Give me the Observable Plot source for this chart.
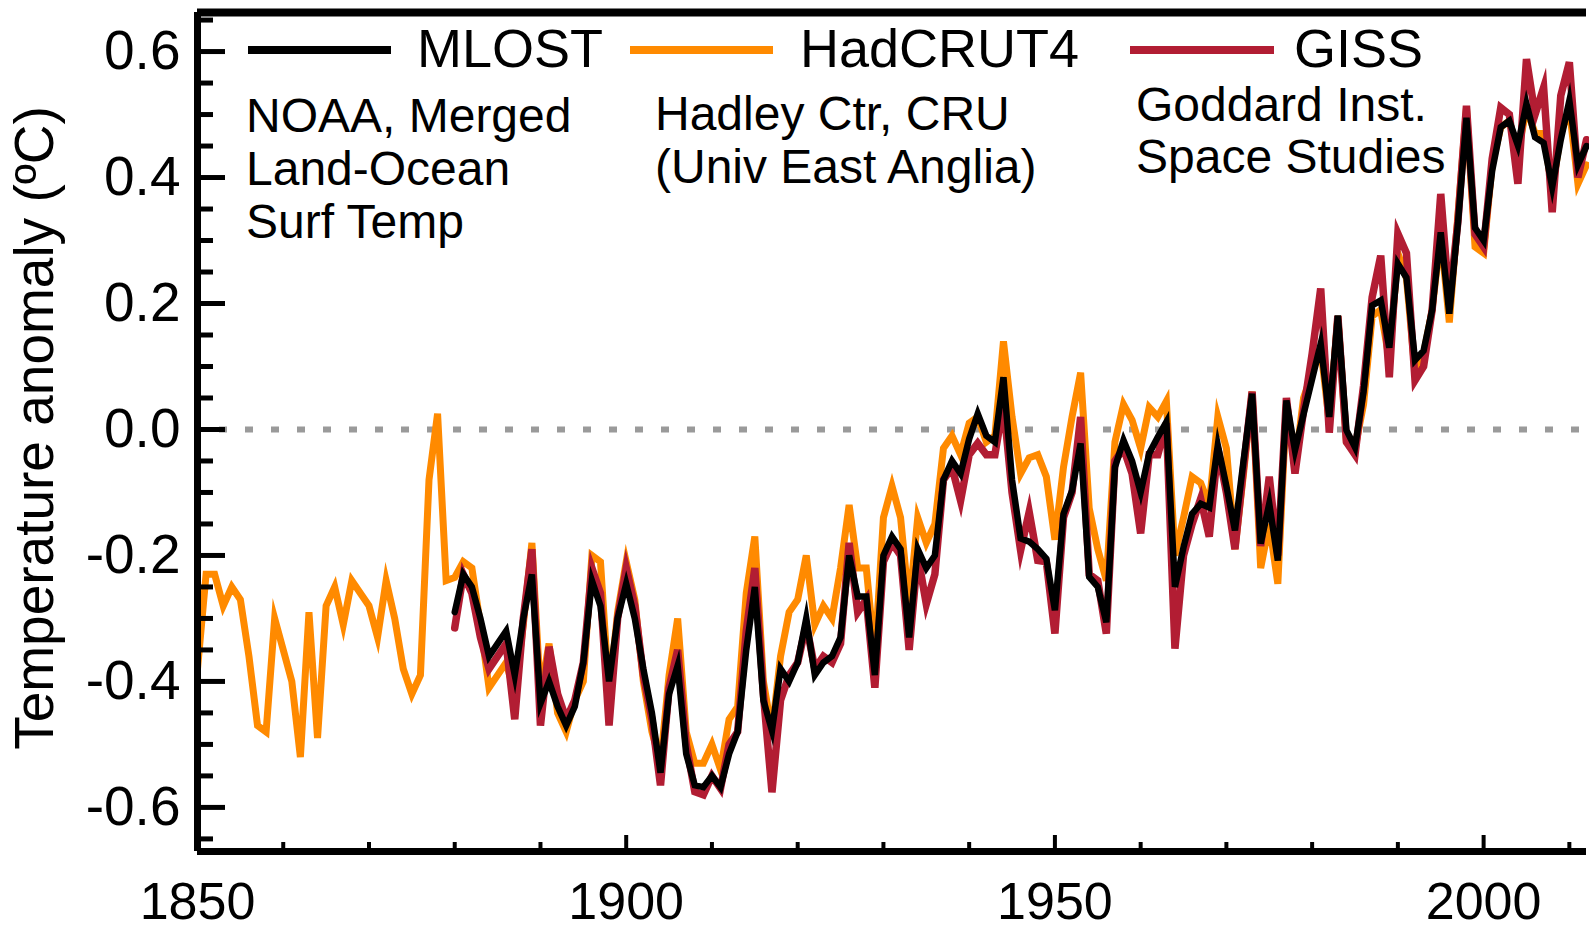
<!DOCTYPE html>
<html>
<head>
<meta charset="utf-8">
<script src="https://cdn.jsdelivr.net/npm/d3@7"></script>
<script src="https://cdn.jsdelivr.net/npm/@observablehq/plot@0.6"></script>
<style>
  html, body { margin: 0; padding: 0; background: #ffffff; overflow: hidden; }
  #chart { width: 1589px; height: 931px; }
</style>
</head>
<body>
<div id="chart"></div>
<script>
// ---------------- DATA ----------------
const hadcrutStart = 1850;
const hadcrut4 = [
  -0.38,-0.23,-0.23,-0.28,-0.25,-0.27,-0.36,-0.47,-0.48,-0.30,
  -0.35,-0.40,-0.52,-0.29,-0.49,-0.28,-0.25,-0.31,-0.24,-0.26,
  -0.28,-0.33,-0.24,-0.30,-0.38,-0.42,-0.39,-0.08,0.025,-0.24,
  -0.235,-0.21,-0.22,-0.31,-0.41,-0.39,-0.37,-0.42,-0.31,-0.18,
  -0.42,-0.34,-0.45,-0.48,-0.43,-0.40,-0.20,-0.21,-0.42,-0.29,
  -0.21,-0.27,-0.40,-0.48,-0.53,-0.39,-0.30,-0.48,-0.53,-0.53,
  -0.50,-0.54,-0.46,-0.44,-0.26,-0.17,-0.40,-0.48,-0.36,-0.29,
  -0.27,-0.20,-0.31,-0.28,-0.30,-0.22,-0.12,-0.22,-0.22,-0.36,
  -0.14,-0.09,-0.14,-0.28,-0.14,-0.18,-0.15,-0.03,-0.01,-0.04,
  0.01,0.02,-0.02,-0.01,0.14,0.02,-0.07,-0.045,-0.04,-0.075,
  -0.175,-0.06,0.02,0.09,-0.125,-0.19,-0.24,-0.02,0.04,0.015,
  -0.03,0.035,0.02,0.045,-0.20,-0.14,-0.075,-0.085,-0.12,0.02,
  -0.03,-0.19,-0.07,0.06,-0.22,-0.15,-0.245,0.04,-0.06,0.05,
  0.09,0.13,0.01,0.18,-0.02,-0.03,0.04,0.18,0.19,0.11,
  0.28,0.24,0.09,0.12,0.19,0.31,0.17,0.34,0.51,0.29,
  0.28,0.42,0.48,0.49,0.44,0.51,0.47,0.47,0.38,0.47,
  0.51,0.39,0.42
];
const mlostStart = 1880;
const mlost = [
  -0.29,-0.23,-0.25,-0.30,-0.36,-0.34,-0.32,-0.39,-0.30,-0.23,
  -0.435,-0.40,-0.44,-0.47,-0.44,-0.37,-0.24,-0.28,-0.40,-0.30,
  -0.245,-0.30,-0.38,-0.45,-0.545,-0.42,-0.375,-0.515,-0.565,-0.568,
  -0.55,-0.568,-0.515,-0.48,-0.35,-0.25,-0.43,-0.478,-0.38,-0.40,
  -0.37,-0.30,-0.39,-0.37,-0.36,-0.33,-0.20,-0.265,-0.265,-0.39,
  -0.20,-0.17,-0.19,-0.33,-0.19,-0.22,-0.20,-0.08,-0.05,-0.07,
  -0.015,0.025,-0.01,-0.02,0.083,-0.08,-0.173,-0.178,-0.19,-0.205,
  -0.287,-0.134,-0.097,-0.022,-0.234,-0.25,-0.306,-0.06,-0.017,-0.05,
  -0.10,-0.038,-0.012,0.012,-0.25,-0.187,-0.134,-0.118,-0.124,-0.025,
  -0.09,-0.16,-0.05,0.057,-0.181,-0.118,-0.208,0.046,-0.033,0.024,
  0.08,0.136,0.02,0.181,-0.001,-0.028,0.06,0.197,0.205,0.13,
  0.263,0.241,0.11,0.125,0.19,0.313,0.184,0.326,0.495,0.32,
  0.30,0.411,0.48,0.49,0.451,0.517,0.464,0.455,0.385,0.46,
  0.522,0.42,0.45
];
const gissStart = 1880;
const giss = [
  -0.315,-0.23,-0.26,-0.33,-0.38,-0.36,-0.34,-0.46,-0.30,-0.19,
  -0.47,-0.345,-0.42,-0.46,-0.43,-0.37,-0.22,-0.26,-0.47,-0.30,
  -0.22,-0.28,-0.39,-0.46,-0.565,-0.41,-0.35,-0.50,-0.575,-0.58,
  -0.55,-0.57,-0.50,-0.48,-0.32,-0.22,-0.42,-0.576,-0.43,-0.39,
  -0.37,-0.31,-0.38,-0.36,-0.37,-0.34,-0.18,-0.29,-0.27,-0.41,
  -0.21,-0.18,-0.20,-0.35,-0.20,-0.277,-0.23,-0.08,-0.06,-0.113,
  -0.04,-0.022,-0.04,-0.04,0.041,-0.10,-0.192,-0.131,-0.208,-0.21,
  -0.324,-0.14,-0.10,0.02,-0.23,-0.24,-0.324,-0.05,-0.03,-0.07,
  -0.165,-0.04,-0.04,0.01,-0.348,-0.20,-0.15,-0.11,-0.17,-0.03,
  -0.10,-0.19,-0.06,0.06,-0.185,-0.075,-0.20,0.05,-0.07,0.03,
  0.12,0.224,-0.005,0.18,-0.02,-0.04,0.07,0.21,0.276,0.083,
  0.311,0.28,0.078,0.10,0.19,0.374,0.20,0.33,0.514,0.31,
  0.29,0.43,0.511,0.50,0.39,0.588,0.50,0.543,0.345,0.53,
  0.583,0.40,0.46
];

const seriesNames = ["MLOST", "HadCRUT4", "GISS"];
const seriesNotes = [
  ["NOAA, Merged", "Land-Ocean", "Surf Temp"],
  ["Hadley Ctr, CRU", "(Univ East Anglia)"],
  ["Goddard Inst.", "Space Studies"]
];
const yTitle = "Temperature anomaly (ºC)";

const xDomain = [1850, 2012];
const yDomain = [-0.67, 0.662];
const xMajorTicks = [1850, 1900, 1950, 2000];
const xMinorTicks = [1860, 1870, 1880, 1890, 1910, 1920, 1930, 1940, 1960, 1970, 1980, 1990, 2010];
const yMajorTicks = [-0.6, -0.4, -0.2, 0.0, 0.2, 0.4, 0.6];
const yMinorTicks = [-0.65, -0.55, -0.5, -0.45, -0.35, -0.3, -0.25, -0.15, -0.1, -0.05,
                     0.05, 0.1, 0.15, 0.25, 0.3, 0.35, 0.45, 0.5, 0.55, 0.65];

// ---------------- STYLE / LAYOUT ----------------
const colors = { MLOST: "#000000", HadCRUT4: "#FF8A00", GISS: "#B21D33" };
const FONT = "'Liberation Sans', Arial, Helvetica, sans-serif";
const W = 1589, H = 931;
const M = { left: 197, right: 3, top: 12, bottom: 80 };
const frameW = W - M.left - M.right;
const frameH = H - M.top - M.bottom;

const toRows = (start, values, name) => values.map((v, i) => ({ year: start + i, value: v, series: name }));
const hadRows = toRows(hadcrutStart, hadcrut4, "HadCRUT4");
const mlostRows = toRows(mlostStart, mlost, "MLOST");
const gissRows = toRows(gissStart, giss, "GISS");

const lineOpts = (name, w) => ({
  x: "year", y: "value", stroke: colors[name], strokeWidth: w,
  strokeLinejoin: "miter", strokeMiterlimit: 6, curve: "linear"
});

const plot = Plot.plot({
  width: W, height: H,
  marginLeft: M.left, marginRight: M.right, marginTop: M.top, marginBottom: M.bottom,
  style: { fontFamily: FONT, background: "#ffffff", color: "#000", overflow: "visible" },
  x: { domain: xDomain, label: null },
  y: { domain: yDomain, label: null },
  marks: [
    // zero reference (dotted)
    Plot.ruleY([0], { stroke: "#9a9a9a", strokeWidth: 6, strokeDasharray: "8,18", strokeDashoffset: 4 }),
    // series
    Plot.line(hadRows, lineOpts("HadCRUT4", 7)),
    Plot.line(gissRows, lineOpts("GISS", 7.5)),
    Plot.line(mlostRows, lineOpts("MLOST", 6.5)),
    // inward ticks
    Plot.ruleX(xMinorTicks, { stroke: "#000", strokeWidth: 4, insetTop: frameH - 9 }),
    Plot.ruleX(xMajorTicks, { stroke: "#000", strokeWidth: 4, insetTop: frameH - 16 }),
    Plot.ruleY(yMinorTicks, { stroke: "#000", strokeWidth: 5, insetRight: frameW - 16 }),
    Plot.ruleY(yMajorTicks, { stroke: "#000", strokeWidth: 5, insetRight: frameW - 28 }),
    // frame (top, left, bottom)
    Plot.ruleY([yDomain[1]], { stroke: "#000", strokeWidth: 8 }),
    Plot.ruleY([yDomain[0]], { stroke: "#000", strokeWidth: 7 }),
    Plot.ruleX([xDomain[0]], { stroke: "#000", strokeWidth: 7 }),
    // tick labels
    Plot.axisX({ ticks: xMajorTicks, tickSize: 0, tickPadding: 31, fontSize: 52, tickFormat: d => String(d), label: null }),
    Plot.axisY({ ticks: yMajorTicks, tickSize: 0, tickPadding: 17, fontSize: 55, tickFormat: d => d.toFixed(1), label: null })
  ]
});

document.getElementById("chart").appendChild(plot);

// ---------------- LEGEND, NOTES, Y TITLE ----------------
const svg = d3.select(plot);
const g = svg.append("g")
  .attr("font-family", FONT)
  .attr("fill", "#000")
  .attr("text-anchor", "start");

const legendLayout = [
  { x1: 248, x2: 391, tx: 417, nx: 246, nb: [132, 185, 238] },
  { x1: 630, x2: 773, tx: 800, nx: 655, nb: [130, 183] },
  { x1: 1130, x2: 1274, tx: 1294, nx: 1136, nb: [121, 173] }
];
seriesNames.forEach((name, i) => {
  const L = legendLayout[i];
  g.append("line")
    .attr("x1", L.x1).attr("x2", L.x2).attr("y1", 50).attr("y2", 50)
    .attr("stroke", colors[name]).attr("stroke-width", 8);
  g.append("text")
    .attr("x", L.tx).attr("y", 67).attr("font-size", 54)
    .attr("text-anchor", "start").text(name);
  seriesNotes[i].forEach((line, j) => {
    g.append("text")
      .attr("x", L.nx).attr("y", L.nb[j]).attr("font-size", 48)
      .attr("text-anchor", "start").text(line);
  });
});

g.append("text")
  .attr("transform", "translate(53,428) rotate(-90)")
  .attr("text-anchor", "middle")
  .attr("font-size", 55)
  .text(yTitle);
</script>
</body>
</html>
